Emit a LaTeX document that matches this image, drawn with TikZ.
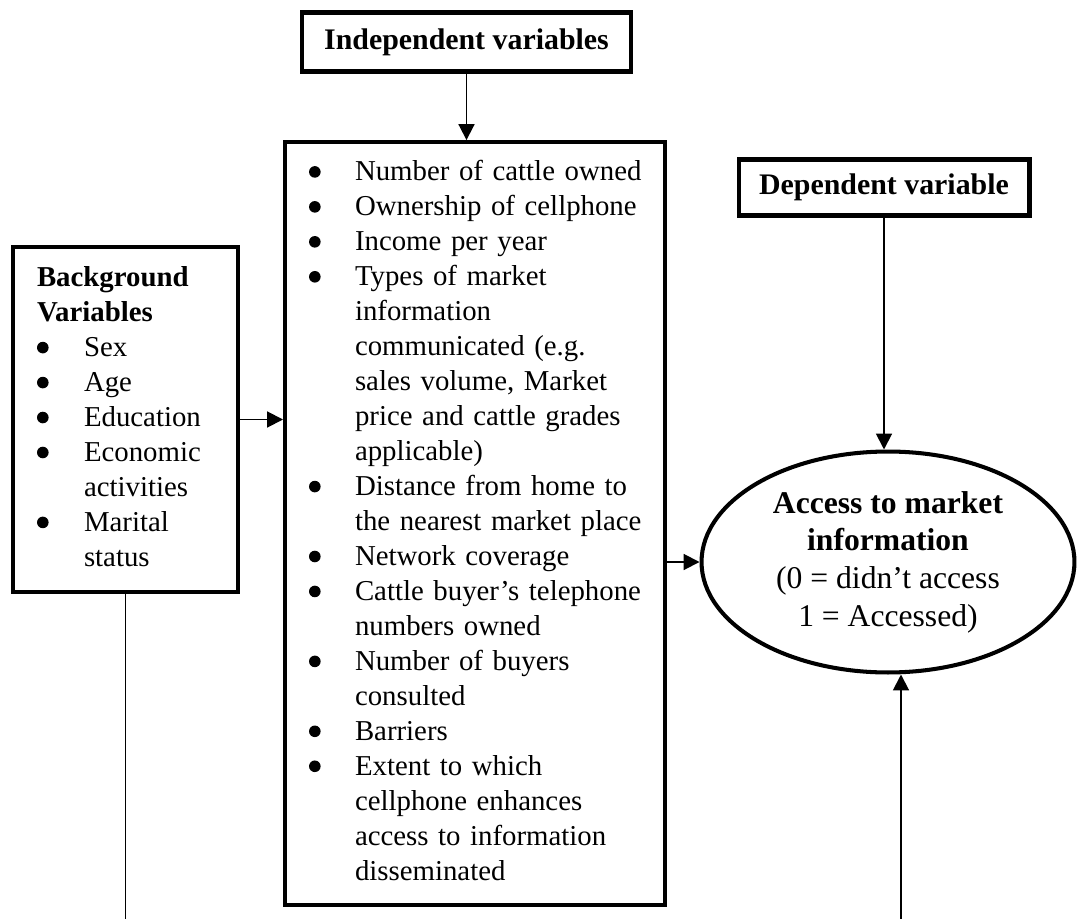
\documentclass[tikz,border=0pt]{standalone}
\usepackage{fontspec}
\setmainfont{Liberation Serif}
\usetikzlibrary{arrows.meta,positioning,shapes.geometric}

\newsavebox{\dotbox}
\sbox{\dotbox}{\tikz\fill (0,0) circle (3.3pt);}
\newcommand{\bitem}{\raisebox{1.8pt}{\usebox{\dotbox}}}

\begin{document}
\begin{tikzpicture}[x=0.02cm, y=-0.02cm,
    every node/.style={font=\fontsize{16.4}{19.9}\selectfont},
    heading/.style={draw, line width=2.3pt, inner sep=0pt, font=\fontsize{17}{19.9}\selectfont\bfseries},
    listbox/.style={draw, line width=2.3pt, align=left, inner xsep=0.48cm, inner ysep=0pt},
    outcome/.style={ellipse, draw, line width=2.3pt, align=center, inner sep=0pt, font=\fontsize{18}{21.4}\selectfont},
    flow/.style={-{Triangle[length=9pt,width=9pt]}, line width=1.1pt},
    link/.style={line width=1.1pt}
  ]
    \useasboundingbox (0,0) rectangle (1079,919);

    % headings of the two variable groups
    \node[heading, minimum width=6.6cm, minimum height=1.18cm] (indep) at (466.5,42) {Independent variables};
    \node[heading, minimum width=5.82cm, minimum height=1.12cm] (dep) at (884,187.5) {Dependent variable};

    % background variables
    \node[listbox, minimum width=4.5cm, minimum height=6.9cm, text width=3.54cm] (bg) at (125.5,419.5) {%
      \begin{tabular}{@{}p{0.94cm}@{}l@{}}
        \multicolumn{2}{@{}l@{}}{\textbf{Background}}\\
        \multicolumn{2}{@{}l@{}}{\textbf{Variables}}\\
        \bitem & Sex\\
        \bitem & Age\\
        \bitem & Education\\
        \bitem & Economic\\
               & activities\\
        \bitem & Marital\\
               & status
      \end{tabular}};

    % independent variables
    \node[listbox, minimum width=7.6cm, minimum height=15.26cm, text width=6.64cm] (indepList) at (475,523.5) {%
      \begin{tabular}{@{}p{0.92cm}@{}l@{}}
        \bitem & Number of cattle owned\\
        \bitem & Ownership of cellphone\\
        \bitem & Income per year\\
        \bitem & Types of market\\
               & information\\
               & communicated (e.g.\\
               & sales volume, Market\\
               & price and cattle grades\\
               & applicable)\\
        \bitem & Distance from home to\\
               & the nearest market place\\
        \bitem & Network coverage\\
        \bitem & Cattle buyer's telephone\\
               & numbers owned\\
        \bitem & Number of buyers\\
               & consulted\\
        \bitem & Barriers\\
        \bitem & Extent to which\\
               & cellphone enhances\\
               & access to information\\
               & disseminated
      \end{tabular}};

    % outcome
    \node[outcome, minimum width=7.46cm, minimum height=4.42cm] (access) at (888,562) {\textbf{Access to market}\\\textbf{information}\\(0 = didn't access\\1 = Accessed)};

    \coordinate (loopEnd) at (901,919);

    \draw[flow] (indep.south) -- (indep.south |- indepList.north);
    \draw[flow] (bg.east) -- (bg.east -| indepList.west);
    \draw[flow] (indepList.east |- access.west) -- (access.west);
    \draw[flow] (dep.south) -- (dep.south |- access.north);
    \draw[link] (bg.south) -- (bg.south |- loopEnd);
    \draw[flow] (loopEnd) -- (loopEnd |- access.south);
  \end{tikzpicture}
\end{document}
